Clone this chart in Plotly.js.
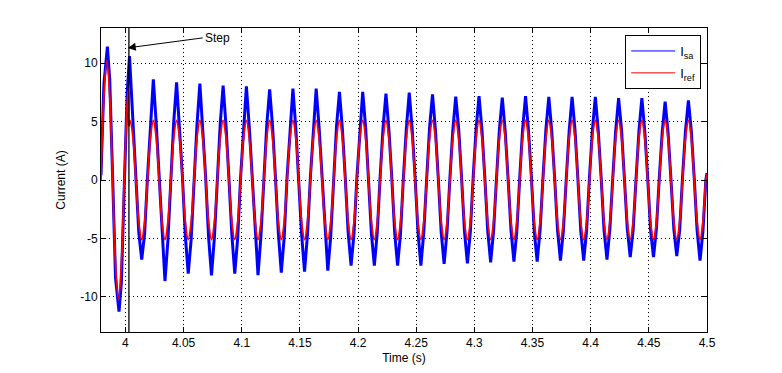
<!DOCTYPE html>
<html>
<head>
<meta charset="utf-8">
<script src="https://cdn.plot.ly/plotly-3.0.1.min.js"></script>
<style>html,body{margin:0;padding:0;background:#fff;}#chart{width:782px;height:373px;}</style>
</head>
<body>
<div id="chart"></div>
<script>
// Measured line current I_sa (A) - sampled at zero crossings, shoulders, peaks and troughs
const tSa = [
3.979, 3.9815, 3.9845, 3.9865, 3.989, 3.9915, 3.9945, 3.9965, 3.999, 4.0015,
4.0035, 4.0065, 4.009, 4.0115, 4.014, 4.0165, 4.019, 4.0215,
4.024, 4.0265, 4.029, 4.0315, 4.034, 4.0365, 4.039, 4.0415,
4.044, 4.0465, 4.049, 4.0515, 4.054, 4.0565, 4.059, 4.0615,
4.064, 4.0665, 4.069, 4.0715, 4.074, 4.0765, 4.079, 4.0815,
4.084, 4.0865, 4.089, 4.0915, 4.094, 4.0965, 4.099, 4.1015,
4.104, 4.1065, 4.109, 4.1115, 4.114, 4.1165, 4.119, 4.1215,
4.124, 4.1265, 4.129, 4.1315, 4.134, 4.1365, 4.139, 4.1415,
4.144, 4.1465, 4.149, 4.1515, 4.154, 4.1565, 4.159, 4.1615,
4.164, 4.1665, 4.169, 4.1715, 4.174, 4.1765, 4.179, 4.1815,
4.184, 4.1865, 4.189, 4.1915, 4.194, 4.1965, 4.199, 4.2015,
4.204, 4.2065, 4.209, 4.2115, 4.214, 4.2165, 4.219, 4.2215,
4.224, 4.2265, 4.229, 4.2315, 4.234, 4.2365, 4.239, 4.2415,
4.244, 4.2465, 4.249, 4.2515, 4.254, 4.2565, 4.259, 4.2615,
4.264, 4.2665, 4.269, 4.2715, 4.274, 4.2765, 4.279, 4.2815,
4.284, 4.2865, 4.289, 4.2915, 4.294, 4.2965, 4.299, 4.3015,
4.304, 4.3065, 4.309, 4.3115, 4.314, 4.3165, 4.319, 4.3215,
4.324, 4.3265, 4.329, 4.3315, 4.334, 4.3365, 4.339, 4.3415,
4.344, 4.3465, 4.349, 4.3515, 4.354, 4.3565, 4.359, 4.3615,
4.364, 4.3665, 4.369, 4.3715, 4.374, 4.3765, 4.379, 4.3815,
4.384, 4.3865, 4.389, 4.3915, 4.394, 4.3965, 4.399, 4.4015,
4.404, 4.4065, 4.409, 4.4115, 4.414, 4.4165, 4.419, 4.4215,
4.424, 4.4265, 4.429, 4.4315, 4.434, 4.4365, 4.439, 4.4415,
4.444, 4.4465, 4.449, 4.4515, 4.454, 4.4565, 4.459, 4.4615,
4.464, 4.4665, 4.469, 4.4715, 4.474, 4.4765, 4.479, 4.4815,
4.484, 4.4865, 4.489, 4.4915, 4.494, 4.4965, 4.499, 4.5
];
const iSa = [
0.4, 8.2, 11.4, 8.6, 0.3, -8.4, -11.25, -8.8, -0.6, 7.4,
10.6, 4.6, 0.4, -4.5, -6.8, -4.6, 0.3, 5.0,
8.6, 4.8, 0.2, -5.0, -8.64, -5.2, -0.2, 4.9,
8.35, 4.7, 0.3, -4.8, -8.0, -5.1, 0.2, 4.7,
8.24, 4.5, 0.2, -4.9, -8.15, -4.9, 0.3, 4.8,
8.07, 4.6, 0.1, -4.7, -8.0, -5.0, 0.2, 4.6,
8.0, 4.5, 0.3, -4.8, -8.13, -4.8, 0.1, 4.7,
7.75, 4.6, 0.2, -4.6, -7.92, -4.9, 0.3, 4.6,
7.81, 4.4, 0.1, -4.7, -7.84, -4.7, 0.2, 4.5,
7.81, 4.5, 0.3, -4.6, -7.75, -4.8, 0.1, 4.6,
7.53, 4.4, 0.2, -4.5, -7.32, -4.6, 0.2, 4.4,
7.53, 4.5, 0.1, -4.6, -7.32, -4.5, 0.3, 4.5,
7.38, 4.3, 0.2, -4.5, -7.32, -4.6, 0.2, 4.4,
7.47, 4.4, 0.3, -4.4, -7.32, -4.5, 0.1, 4.5,
7.32, 4.3, 0.1, -4.5, -7.18, -4.4, 0.2, 4.3,
7.12, 4.4, 0.2, -4.4, -7.12, -4.5, 0.3, 4.4,
7.18, 4.3, 0.2, -4.4, -7.04, -4.4, 0.1, 4.3,
7.04, 4.2, 0.1, -4.3, -6.98, -4.4, 0.2, 4.4,
7.18, 4.3, 0.3, -4.4, -6.98, -4.3, 0.2, 4.3,
7.1, 4.2, 0.2, -4.3, -6.89, -4.4, 0.1, 4.2,
7.1, 4.3, 0.1, -4.4, -6.89, -4.3, 0.3, 4.3,
7.1, 4.2, 0.2, -4.3, -6.8, -4.2, 0.2, 4.2,
7.0, 4.3, 0.1, -4.2, -6.6, -4.3, 0.1, 4.2,
7.0, 4.2, 0.2, -4.3, -6.6, -4.2, 0.2, 4.1,
6.7, 4.1, 0.1, -4.2, -6.5, -4.3, 0.3, 4.2,
6.8, 4.2, 0.2, -4.3, -6.9, -4.4, 0.0, 0.6
];
// Reference current I_ref (A)
const tRef = [
3.979, 3.9815, 3.984, 3.9865, 3.989, 3.9915, 3.994, 3.9965, 3.999, 4.0015, 4.0027, 4.0031,
4.004, 4.0065, 4.009, 4.0115, 4.014, 4.0165, 4.019, 4.0215,
4.024, 4.0265, 4.029, 4.0315, 4.034, 4.0365, 4.039, 4.0415,
4.044, 4.0465, 4.049, 4.0515, 4.054, 4.0565, 4.059, 4.0615,
4.064, 4.0665, 4.069, 4.0715, 4.074, 4.0765, 4.079, 4.0815,
4.084, 4.0865, 4.089, 4.0915, 4.094, 4.0965, 4.099, 4.1015,
4.104, 4.1065, 4.109, 4.1115, 4.114, 4.1165, 4.119, 4.1215,
4.124, 4.1265, 4.129, 4.1315, 4.134, 4.1365, 4.139, 4.1415,
4.144, 4.1465, 4.149, 4.1515, 4.154, 4.1565, 4.159, 4.1615,
4.164, 4.1665, 4.169, 4.1715, 4.174, 4.1765, 4.179, 4.1815,
4.184, 4.1865, 4.189, 4.1915, 4.194, 4.1965, 4.199, 4.2015,
4.204, 4.2065, 4.209, 4.2115, 4.214, 4.2165, 4.219, 4.2215,
4.224, 4.2265, 4.229, 4.2315, 4.234, 4.2365, 4.239, 4.2415,
4.244, 4.2465, 4.249, 4.2515, 4.254, 4.2565, 4.259, 4.2615,
4.264, 4.2665, 4.269, 4.2715, 4.274, 4.2765, 4.279, 4.2815,
4.284, 4.2865, 4.289, 4.2915, 4.294, 4.2965, 4.299, 4.3015,
4.304, 4.3065, 4.309, 4.3115, 4.314, 4.3165, 4.319, 4.3215,
4.324, 4.3265, 4.329, 4.3315, 4.334, 4.3365, 4.339, 4.3415,
4.344, 4.3465, 4.349, 4.3515, 4.354, 4.3565, 4.359, 4.3615,
4.364, 4.3665, 4.369, 4.3715, 4.374, 4.3765, 4.379, 4.3815,
4.384, 4.3865, 4.389, 4.3915, 4.394, 4.3965, 4.399, 4.4015,
4.404, 4.4065, 4.409, 4.4115, 4.414, 4.4165, 4.419, 4.4215,
4.424, 4.4265, 4.429, 4.4315, 4.434, 4.4365, 4.439, 4.4415,
4.444, 4.4465, 4.449, 4.4515, 4.454, 4.4565, 4.459, 4.4615,
4.464, 4.4665, 4.469, 4.4715, 4.474, 4.4765, 4.479, 4.4815,
4.484, 4.4865, 4.489, 4.4915, 4.494, 4.4965, 4.499, 4.5
];
const iRef = [
0, 7.2, 10.2, 7.2, 0, -7.2, -10.2, -7.2, 0, 6.5, 7.8, 4.6,
5.1, 3.6, 0, -3.6, -5.1, -3.6, 0, 3.6,
5.1, 3.6, 0, -3.6, -5.1, -3.6, 0, 3.6,
5.1, 3.6, 0, -3.6, -5.1, -3.6, 0, 3.6,
5.1, 3.6, 0, -3.6, -5.1, -3.6, 0, 3.6,
5.1, 3.6, 0, -3.6, -5.1, -3.6, 0, 3.6,
5.1, 3.6, 0, -3.6, -5.1, -3.6, 0, 3.6,
5.1, 3.6, 0, -3.6, -5.1, -3.6, 0, 3.6,
5.1, 3.6, 0, -3.6, -5.1, -3.6, 0, 3.6,
5.1, 3.6, 0, -3.6, -5.1, -3.6, 0, 3.6,
5.1, 3.6, 0, -3.6, -5.1, -3.6, 0, 3.6,
5.1, 3.6, 0, -3.6, -5.1, -3.6, 0, 3.6,
5.1, 3.6, 0, -3.6, -5.1, -3.6, 0, 3.6,
5.1, 3.6, 0, -3.6, -5.1, -3.6, 0, 3.6,
5.1, 3.6, 0, -3.6, -5.1, -3.6, 0, 3.6,
5.1, 3.6, 0, -3.6, -5.1, -3.6, 0, 3.6,
5.1, 3.6, 0, -3.6, -5.1, -3.6, 0, 3.6,
5.1, 3.6, 0, -3.6, -5.1, -3.6, 0, 3.6,
5.1, 3.6, 0, -3.6, -5.1, -3.6, 0, 3.6,
5.1, 3.6, 0, -3.6, -5.1, -3.6, 0, 3.6,
5.1, 3.6, 0, -3.6, -5.1, -3.6, 0, 3.6,
5.1, 3.6, 0, -3.6, -5.1, -3.6, 0, 3.6,
5.1, 3.6, 0, -3.6, -5.1, -3.6, 0, 3.6,
5.1, 3.6, 0, -3.6, -5.1, -3.6, 0, 3.6,
5.1, 3.6, 0, -3.6, -5.1, -3.6, 0, 3.6,
5.1, 3.6, 0, -3.6, -5.1, -3.6, 0, 0.5
];
const seriesNames = ['I<sub>sa</sub>', 'I<sub>ref</sub>'];
const stepTime = 4.003;
const stepLabel = 'Step';
const stepArrowY = 11.3;
const xTickVals = [4, 4.05, 4.1, 4.15, 4.2, 4.25, 4.3, 4.35, 4.4, 4.45, 4.5];
const xTickText = ['4', '4.05', '4.1', '4.15', '4.2', '4.25', '4.3', '4.35', '4.4', '4.45', '4.5'];
const yTickVals = [-10, -5, 0, 5, 10];
const yTickText = ['-10', '-5', '0', '5', '10'];

const FONT = 'Liberation Sans, Arial, Helvetica, sans-serif';
const BLUE = '#0000ff', RED = '#ff0000';

const traces = [
  {x: tSa, y: iSa, type: 'scatter', mode: 'lines', name: seriesNames[0], showlegend: false,
   line: {color: BLUE, width: 3, shape: 'linear'}},
  {x: tRef, y: iRef, type: 'scatter', mode: 'lines', name: seriesNames[1], showlegend: false,
   line: {color: RED, width: 1.8, shape: 'spline', smoothing: 1}},
  // legend-only entries with thin sample lines, as in the reference legend
  {x: [null], y: [null], type: 'scatter', mode: 'lines', name: seriesNames[0], legendgroup: 'a',
   line: {color: BLUE, width: 1}},
  {x: [null], y: [null], type: 'scatter', mode: 'lines', name: seriesNames[1], legendgroup: 'b',
   line: {color: RED, width: 1}}
];

const axisCommon = {
  showline: true, linecolor: '#000', linewidth: 1, mirror: 'ticks',
  ticks: 'inside', ticklen: 5, tickcolor: '#000', tickwidth: 1,
  showgrid: true, gridcolor: '#000', gridwidth: 1, griddash: '1px,3px',
  zeroline: false, tickfont: {family: FONT, size: 12, color: '#000'}
};

const layout = {
  width: 782, height: 373,
  margin: {l: 101, r: 75, t: 28, b: 41},
  paper_bgcolor: '#fff', plot_bgcolor: '#fff',
  showlegend: true,
  xaxis: Object.assign({}, axisCommon, {
    range: [3.979, 4.5], tickmode: 'array', tickvals: xTickVals, ticktext: xTickText,
    title: {text: 'Time (s)', font: {family: FONT, size: 12, color: '#000'}, standoff: 4}
  }),
  yaxis: Object.assign({}, axisCommon, {
    range: [-13, 13], tickmode: 'array', tickvals: yTickVals, ticktext: yTickText,
    title: {text: 'Current (A)', font: {family: FONT, size: 12, color: '#000'}, standoff: 12}
  }),
  legend: {
    x: 0.865, y: 0.977, xanchor: 'left', yanchor: 'top',
    bgcolor: '#fff', bordercolor: '#000', borderwidth: 1,
    font: {family: FONT, size: 13, color: '#000'},
    itemwidth: 44, traceorder: 'grouped', tracegroupgap: 2
  },
  shapes: [{
    type: 'line', xref: 'x', yref: 'paper', x0: stepTime, x1: stepTime, y0: 0, y1: 1,
    line: {color: '#000', width: 1.3}
  }],
  annotations: [{
    x: stepTime - 0.001, y: stepArrowY, xref: 'x', yref: 'y',
    text: stepLabel, showarrow: true, arrowhead: 2, arrowsize: 1.6, arrowwidth: 1,
    arrowcolor: '#000', ax: 75, ay: -10, xanchor: 'left',
    font: {family: FONT, size: 12, color: '#000'}
  }]
};

Plotly.newPlot('chart', traces, layout, {displayModeBar: false, staticPlot: true});
</script>
</body>
</html>
